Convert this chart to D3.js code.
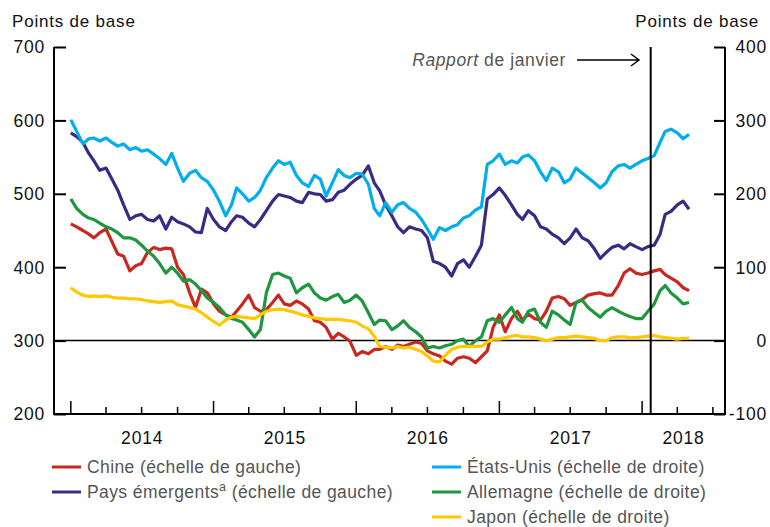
<!DOCTYPE html>
<html>
<head>
<meta charset="utf-8">
<script src="https://cdn.jsdelivr.net/npm/d3@7"></script>
<style>
  body { margin: 0; background: #fff; }
  svg { font-family: "Liberation Sans", Arial, Helvetica, sans-serif; }
</style>
</head>
<body>
<script>
// Valeurs, un point tous les demi-mois (1er et 16) de janv. 2014 à avril 2018
// Chine et pays émergents : échelle de gauche (points de base)
var chine = [459,455,450,445,440,447,452,435,418,415,395,402,405,420,427,424,426,425,400,390,
  365,345,370,365,350,340,335,332,340,350,362,345,340,342,352,362,350,348,354,350,
  343,327,325,318,302,310,305,299,280,285,282,288,288,292,288,294,292,295,298,296,
  286,282,279,272,268,276,278,276,270,278,286,318,335,312,330,340,328,336,330,328,
  340,358,360,357,348,352,356,362,364,365,362,362,375,392,398,392,390,392,395,397,
  390,385,380,372,368];
var emergents = [583,578,570,555,545,532,535,520,505,485,465,470,472,465,463,470,452,468,462,459,
  455,448,447,480,465,455,450,462,470,468,460,455,465,477,490,499,497,495,490,488,
  502,500,499,490,492,502,505,513,520,525,538,515,504,485,470,455,447,455,452,450,
  440,408,405,400,388,405,410,400,415,430,493,499,508,498,485,472,465,477,470,455,
  452,445,440,432,440,452,440,436,425,412,420,427,430,425,432,428,424,428,430,445,
  472,476,485,490,479];
// États-Unis, Allemagne et Japon : échelle de droite (points de base)
var etatsUnis = [301,285,268,275,276,272,276,270,265,268,260,263,258,260,254,248,240,255,235,217,
  228,232,222,217,205,190,170,185,208,200,190,195,205,222,235,245,240,243,225,215,
  210,225,220,197,215,233,225,222,228,227,213,180,170,188,175,185,188,180,175,165,
  152,138,154,150,155,158,167,170,178,182,240,245,254,240,245,242,250,253,245,230,
  218,235,230,215,220,235,228,222,215,208,215,230,238,240,235,240,245,248,252,270,
  285,288,283,275,281];
var allemagne = [193,180,172,167,165,160,155,152,147,140,140,137,130,122,115,105,92,100,92,81,
  83,77,68,58,52,45,35,30,28,25,15,5,15,65,90,92,88,85,65,72,
  77,65,58,55,60,63,52,55,62,54,38,22,28,27,15,20,27,18,12,5,
  -10,-8,-10,-7,-5,0,2,-8,0,5,27,30,25,35,45,30,25,40,43,25,
  18,40,35,28,22,52,55,45,38,32,40,45,40,36,33,30,30,40,50,68,
  75,65,58,50,52];
var japon = [72,66,62,60,61,60,61,59,58,58,57,57,56,54,53,52,53,54,49,47,
  45,43,38,32,26,21,28,32,33,32,31,30,35,40,42,43,42,40,38,35,
  33,31,30,29,29,29,28,27,25,20,16,6,-8,-9,-10,-8,-10,-9,-12,-15,
  -21,-28,-29,-20,-12,-9,-8,-8,-8,-8,-2,2,2,4,6,7,5,5,4,2,
  0,2,4,4,5,6,5,4,3,0,0,4,5,5,4,4,5,6,7,5,
  4,3,2,3,3];

var gaucheTicks = [200, 300, 400, 500, 600, 700];
var droiteTicks = [-100, 0, 100, 200, 300, 400];
var annees = ["2014", "2015", "2016", "2017", "2018"];

var dates = chine.map(function(d, i) {
  return new Date(2014, Math.floor(i / 2), i % 2 ? 16 : 1);
});

var series = [
  { nom: "Chine", echelle: "gauche", valeurs: chine, couleur: "#c8281e" },
  { nom: "Pays émergents", echelle: "gauche", valeurs: emergents, couleur: "#3b2a84" },
  { nom: "États-Unis", echelle: "droite", valeurs: etatsUnis, couleur: "#00aeef" },
  { nom: "Allemagne", echelle: "droite", valeurs: allemagne, couleur: "#20963e" },
  { nom: "Japon", echelle: "droite", valeurs: japon, couleur: "#ffc800" }
];

var largeur = 770, hauteur = 527;
var gauche = 54, droite = 725, haut = 47, bas = 414;

var svg = d3.select("body").append("svg")
  .attr("width", largeur)
  .attr("height", hauteur);

var x = d3.scaleTime()
  .domain([new Date(2013, 10, 19), new Date(2018, 7, 1)])
  .range([gauche, droite]);

var yG = d3.scaleLinear().domain([200, 700]).range([bas, haut]);
var yD = d3.scaleLinear().domain([-100, 400]).range([bas, haut]);

// Axes
svg.append("g")
  .attr("transform", "translate(" + gauche + ",0)")
  .call(d3.axisRight(yG).tickValues(gaucheTicks).tickSize(12).tickFormat(""))
  .call(function(g) { g.select(".domain").remove(); })
  .selectAll("line").attr("stroke-width", 2);

svg.append("g")
  .attr("transform", "translate(" + droite + ",0)")
  .call(d3.axisLeft(yD).tickValues(droiteTicks).tickSize(11).tickFormat(""))
  .call(function(g) { g.select(".domain").remove(); })
  .selectAll("line").attr("stroke-width", 2);

// petites graduations trimestrielles, grandes annuelles
var trimestres = d3.timeMonth.every(3).range(new Date(2014, 0, 1), new Date(2018, 7, 1));
svg.append("g")
  .selectAll("line")
  .data(trimestres)
  .join("line")
  .attr("x1", function(d) { return x(d); })
  .attr("x2", function(d) { return x(d); })
  .attr("y1", bas)
  .attr("y2", function(d) { return d.getMonth() === 0 ? bas - 13 : bas - 7; })
  .attr("stroke", "#000")
  .attr("stroke-width", 1.5);

var cadre = svg.append("g").attr("stroke", "#000").attr("stroke-width", 2);
cadre.append("line").attr("x1", gauche).attr("x2", gauche).attr("y1", haut).attr("y2", bas + 1);
cadre.append("line").attr("x1", droite).attr("x2", droite).attr("y1", haut).attr("y2", bas + 1);
cadre.append("line").attr("x1", gauche).attr("x2", droite).attr("y1", bas).attr("y2", bas);

// libellés des axes
function libelle(sel) {
  sel.attr("font-size", 17.5).attr("letter-spacing", 0.8).attr("fill", "#111");
}

svg.append("g")
  .selectAll("text")
  .data(gaucheTicks)
  .join("text")
  .attr("x", 45)
  .attr("y", function(d) { return yG(d); })
  .attr("dy", "0.36em")
  .attr("text-anchor", "end")
  .call(libelle)
  .text(function(d) { return d; });

svg.append("g")
  .selectAll("text")
  .data(droiteTicks)
  .join("text")
  .attr("x", 767)
  .attr("y", function(d) { return yD(d); })
  .attr("dy", "0.36em")
  .attr("text-anchor", "end")
  .call(libelle)
  .text(function(d) { return d; });

svg.append("g")
  .selectAll("text")
  .data(annees)
  .join("text")
  .attr("x", function(d) {
    var debut = x(new Date(+d, 0, 1));
    var fin = Math.min(x(new Date(+d + 1, 0, 1)), droite);
    return (debut + fin) / 2;
  })
  .attr("y", 444)
  .attr("text-anchor", "middle")
  .call(libelle)
  .text(function(d) { return d; });

svg.append("text").attr("x", 12).attr("y", 27).call(libelle).attr("font-size", 17).text("Points de base");
svg.append("text").attr("x", 759).attr("y", 27).attr("text-anchor", "end").call(libelle).attr("font-size", 17).text("Points de base");

// ligne zéro
svg.append("line")
  .attr("x1", gauche).attr("x2", droite)
  .attr("y1", yD(0)).attr("y2", yD(0))
  .attr("stroke", "#000").attr("stroke-width", 1.5);

// courbes
series.forEach(function(s) {
  var y = s.echelle === "gauche" ? yG : yD;
  svg.append("path")
    .datum(s.valeurs)
    .attr("fill", "none")
    .attr("stroke", s.couleur)
    .attr("stroke-width", 3.2)
    .attr("stroke-linejoin", "round")
    .attr("d", d3.line()
      .x(function(d, i) { return x(dates[i]); })
      .y(function(d) { return y(d); }));
});

// rapport de janvier
var rapport = x(new Date(2018, 0, 23));
svg.append("line")
  .attr("x1", rapport).attr("x2", rapport)
  .attr("y1", haut).attr("y2", bas)
  .attr("stroke", "#000").attr("stroke-width", 2);

var note = svg.append("text")
  .attr("x", 566).attr("y", 66)
  .attr("text-anchor", "end")
  .attr("font-size", 17.5)
  .attr("letter-spacing", 0.6)
  .attr("fill", "#555");
note.append("tspan").attr("font-style", "italic").text("Rapport");
note.append("tspan").text(" de janvier");

svg.append("path")
  .attr("d", "M577,60H639M631,54L639,60L631,66")
  .attr("fill", "none")
  .attr("stroke", "#000")
  .attr("stroke-width", 1.5);

// légende
var legende = [
  { s: series[0], col: 0, row: 0, texte: "Chine", sup: "", suite: " (échelle de gauche)" },
  { s: series[1], col: 0, row: 1, texte: "Pays émergents", sup: "a", suite: " (échelle de gauche)" },
  { s: series[2], col: 1, row: 0, texte: "États-Unis", sup: "", suite: " (échelle de droite)" },
  { s: series[3], col: 1, row: 1, texte: "Allemagne", sup: "", suite: " (échelle de droite)" },
  { s: series[4], col: 1, row: 2, texte: "Japon", sup: "", suite: " (échelle de droite)" }
];

var item = svg.append("g")
  .selectAll("g")
  .data(legende)
  .join("g")
  .attr("transform", function(d) {
    return "translate(" + (d.col ? 432 : 52) + "," + (467 + d.row * 25) + ")";
  });

item.append("line")
  .attr("x1", 0).attr("x2", 29)
  .attr("stroke", function(d) { return d.s.couleur; })
  .attr("stroke-width", 3);

item.append("text")
  .attr("x", 35)
  .attr("y", 6)
  .attr("font-size", 17.5)
  .attr("letter-spacing", 0.4)
  .attr("fill", "#555")
  .each(function(d) {
    var t = d3.select(this);
    t.append("tspan").text(d.texte);
    if (d.sup) {
      t.append("tspan").attr("dy", -7).attr("font-size", 12.5).text(d.sup);
      t.append("tspan").attr("dy", 7).text(d.suite);
    } else {
      t.append("tspan").text(d.suite);
    }
  });
</script>
</body>
</html>
